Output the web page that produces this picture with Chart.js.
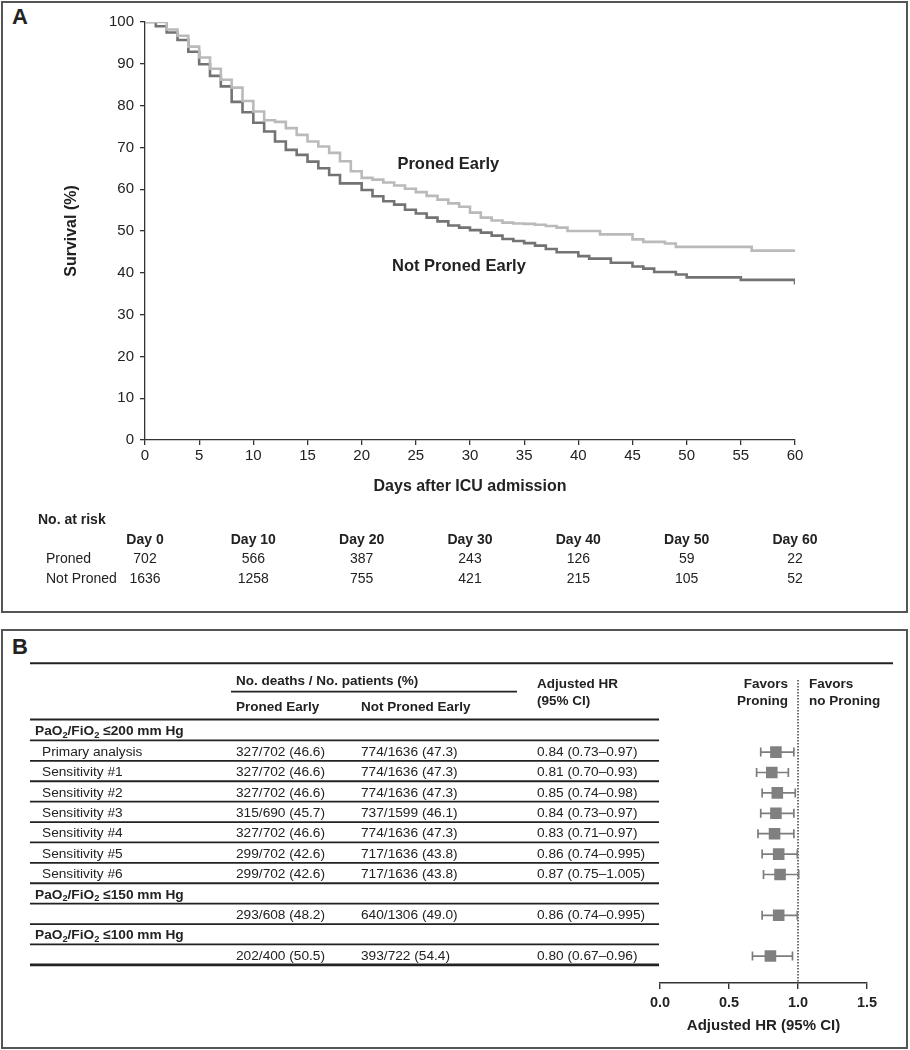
<!DOCTYPE html>
<html>
<head>
<meta charset="utf-8">
<script src="https://cdn.jsdelivr.net/npm/chart.js@4.4.1/dist/chart.umd.min.js"></script>
<style>
  body { margin: 0; background: #fff; }
  #wrap { position: relative; width: 910px; height: 1050px; background: #fff; }
  .panel { position: absolute; box-sizing: border-box; border: 2px solid #555; }
  .tag { position: absolute; font: bold 22px 'Liberation Sans', Arial, sans-serif; line-height: 22px; color: #222; }
  canvas { position: absolute; left: 0; }
</style>
</head>
<body>
<div id="wrap">
  <div class="panel" style="left:1px;top:1px;width:907px;height:612px"></div>
  <div class="panel" style="left:1px;top:629px;width:907px;height:420px"></div>
  <div class="tag" style="left:12px;top:6px">A</div>
  <div class="tag" style="left:12px;top:636px">B</div>
  <canvas id="km" width="910" height="612" style="top:0"></canvas>
  <canvas id="forest" width="910" height="420" style="top:630px"></canvas>
</div>
<script>
// ---------- DATA: survival curves ----------
const days = [0,1,2,3,4,5,6,7,8,9,10,11,12,13,14,15,16,17,18,19,20,21,22,23,24,25,26,27,28,29,30,
              31,32,33,34,35,36,37,38,39,40,41,42,43,44,45,46,47,48,49,50,51,52,53,54,55,56,57,58,59,60];
const pronedEarly = [100,100,98.2,96.7,94.1,91.5,88.8,86.2,84.3,81.1,
                     78.6,76.5,76.1,74.6,73.0,71.4,70.2,68.7,66.7,64.3,
                     62.7,62.3,61.6,60.9,60.1,59.3,58.4,57.5,56.6,55.8,
                     54.4,53.2,52.5,52.0,51.8,51.7,51.5,51.2,50.8,50.0,
                     50.0,50.0,49.2,49.2,49.2,48.0,47.4,47.4,47.0,46.2,
                     46.2,46.2,46.2,46.2,46.2,46.2,45.3,45.3,45.3,45.3,45.3];
const notPronedEarly = [100,99.0,97.5,95.7,92.9,89.9,87.1,84.6,80.9,78.4,
                        75.9,73.8,71.4,69.4,68.2,66.6,65.0,63.4,61.4,61.4,
                        59.8,58.3,57.1,56.3,55.1,54.2,53.2,52.3,51.3,50.8,
                        50.2,49.6,48.9,48.1,47.6,47.1,46.5,45.7,44.9,44.9,
                        44.0,43.4,43.4,42.4,42.4,41.5,41.0,40.2,40.2,39.6,
                        38.9,38.9,38.9,38.9,38.9,38.3,38.3,38.3,38.3,38.3,37.2];

// ---------- DATA: number at risk ----------
const riskDays = [0, 10, 20, 30, 40, 50, 60];
const riskProned = [702, 566, 387, 243, 126, 59, 22];
const riskNotProned = [1636, 1258, 755, 421, 215, 105, 52];

// ---------- DATA: forest table ----------
const rowLabels = ['PaO_2/FiO_2 \u2264200 mm Hg', 'Primary analysis', 'Sensitivity #1', 'Sensitivity #2',
                   'Sensitivity #3', 'Sensitivity #4', 'Sensitivity #5', 'Sensitivity #6',
                   'PaO_2/FiO_2 \u2264150 mm Hg', '', 'PaO_2/FiO_2 \u2264100 mm Hg', ''];
const rowIsGroup = [true, false, false, false, false, false, false, false, true, false, true, false];
const pronedCol = ['', '327/702 (46.6)', '327/702 (46.6)', '327/702 (46.6)', '315/690 (45.7)',
                   '327/702 (46.6)', '299/702 (42.6)', '299/702 (42.6)', '', '293/608 (48.2)', '', '202/400 (50.5)'];
const notPronedCol = ['', '774/1636 (47.3)', '774/1636 (47.3)', '774/1636 (47.3)', '737/1599 (46.1)',
                      '774/1636 (47.3)', '717/1636 (43.8)', '717/1636 (43.8)', '', '640/1306 (49.0)', '', '393/722 (54.4)'];
const hrRows = [1, 2, 3, 4, 5, 6, 7, 9, 11];
const hr = [0.84, 0.81, 0.85, 0.84, 0.83, 0.86, 0.87, 0.86, 0.80];
const hrLow = [0.73, 0.70, 0.74, 0.73, 0.71, 0.74, 0.75, 0.74, 0.67];
const hrHigh = [0.97, 0.93, 0.98, 0.97, 0.97, 0.995, 1.005, 0.995, 0.96];
const hrTicks = [0, 0.5, 1.0, 1.5];

const FONT = "'Liberation Sans', Arial, sans-serif";
const INK = '#222';
Chart.defaults.font.family = FONT;
Chart.defaults.color = INK;

// ---------- PANEL A ----------
const curveLabels = [
    { text: 'Proned Early', day: 23.3, surv: 65.9 },
    { text: 'Not Proned Early', day: 22.8, surv: 41.5 }
];

const kmText = {
    id: 'kmText',
    afterDraw(chart) {
        const ctx = chart.ctx;
        const xs = chart.scales.x, ys = chart.scales.y;
        ctx.save();
        ctx.fillStyle = INK;
        ctx.textBaseline = 'middle';

        ctx.font = 'bold 16.5px ' + FONT;
        ctx.textAlign = 'left';
        curveLabels.forEach(l => {
            ctx.fillText(l.text, xs.getPixelForValue(l.day), ys.getPixelForValue(l.surv));
        });

        // number at risk table
        ctx.font = 'bold 14px ' + FONT;
        ctx.fillText('No. at risk', 38, 520);
        ctx.textAlign = 'center';
        riskDays.forEach(d => ctx.fillText('Day ' + d, xs.getPixelForValue(d), 540));

        ctx.font = '14px ' + FONT;
        ctx.textAlign = 'left';
        ctx.fillText('Proned', 46, 559);
        ctx.fillText('Not Proned', 46, 579);
        ctx.textAlign = 'center';
        riskDays.forEach((d, i) => {
            const x = xs.getPixelForValue(d);
            ctx.fillText(String(riskProned[i]), x, 559);
            ctx.fillText(String(riskNotProned[i]), x, 579);
        });
        ctx.restore();
    }
};

new Chart(document.getElementById('km'), {
    type: 'line',
    data: {
        datasets: [{
            label: 'Proned Early',
            data: days.map((d, i) => ({ x: d, y: pronedEarly[i] })),
            borderColor: '#bababa',
            borderWidth: 2.6,
            stepped: true,
            pointRadius: 0
        }, {
            label: 'Not Proned Early',
            data: days.map((d, i) => ({ x: d, y: notPronedEarly[i] })),
            borderColor: '#737373',
            borderWidth: 2.6,
            stepped: true,
            pointRadius: 0
        }]
    },
    options: {
        responsive: false,
        animation: false,
        layout: { padding: { left: 60, right: 115, top: 22, bottom: 116 } },
        plugins: { legend: { display: false }, tooltip: { enabled: false } },
        scales: {
            x: {
                type: 'linear', min: 0, max: 60,
                ticks: { stepSize: 5, font: { size: 15 }, padding: 2, color: INK },
                grid: { drawOnChartArea: false, tickLength: 5, color: '#333', lineWidth: 1.3 },
                border: { color: '#333', width: 1.3 },
                title: { display: true, text: 'Days after ICU admission', color: INK,
                         font: { size: 16, weight: 'bold' }, padding: { top: 0, bottom: 0 } },
                afterFit(s) { s.height = 56; }
            },
            y: {
                min: 0, max: 100,
                ticks: { stepSize: 10, font: { size: 15 }, padding: 6, color: INK },
                grid: { drawOnChartArea: false, tickLength: 5, color: '#333', lineWidth: 1.3 },
                border: { color: '#333', width: 1.3 },
                title: { display: true, text: 'Survival (%)', color: INK,
                         font: { size: 16, weight: 'bold' }, padding: { top: 2, bottom: 0 } },
                afterFit(s) { s.width = 85; }
            }
        }
    },
    plugins: [kmText]
});

// ---------- PANEL B ----------
// text with "_x" meaning subscript x
function drawRich(ctx, str, x, y, size, weight) {
    let i = 0;
    while (i < str.length) {
        let sub = false, piece;
        if (str[i] === '_') { sub = true; piece = str[i + 1]; i += 2; }
        else {
            let j = str.indexOf('_', i);
            if (j < 0) j = str.length;
            piece = str.slice(i, j); i = j;
        }
        const fs = sub ? size * 0.68 : size;
        ctx.font = weight + ' ' + fs + 'px ' + FONT;
        ctx.fillText(piece, x, sub ? y + size * 0.28 : y);
        x += ctx.measureText(piece).width;
    }
}

function hline(ctx, x1, x2, y, w) {
    ctx.lineWidth = w;
    ctx.beginPath();
    ctx.moveTo(x1, y);
    ctx.lineTo(x2, y);
    ctx.stroke();
}

const forestDecor = {
    id: 'forestDecor',
    beforeDatasetsDraw(chart) {
        const ctx = chart.ctx;
        const xs = chart.scales.x, ys = chart.scales.y;
        ctx.save();
        // reference line at HR = 1
        ctx.strokeStyle = '#333';
        ctx.lineWidth = 1.4;
        ctx.setLineDash([1.5, 1.5]);
        const x1 = xs.getPixelForValue(1);
        ctx.beginPath();
        ctx.moveTo(x1, 50);
        ctx.lineTo(x1, chart.chartArea.bottom);
        ctx.stroke();
        ctx.setLineDash([]);

        // confidence intervals
        ctx.strokeStyle = '#7d7d7d';
        ctx.lineWidth = 1.7;
        hrRows.forEach((r, i) => {
            const y = ys.getPixelForValue(r);
            const a = xs.getPixelForValue(hrLow[i]), b = xs.getPixelForValue(hrHigh[i]);
            ctx.beginPath();
            ctx.moveTo(a, y); ctx.lineTo(b, y);
            ctx.moveTo(a, y - 4.5); ctx.lineTo(a, y + 4.5);
            ctx.moveTo(b, y - 4.5); ctx.lineTo(b, y + 4.5);
            ctx.stroke();
        });
        ctx.restore();
    },
    afterDraw(chart) {
        const ctx = chart.ctx;
        const ys = chart.scales.y;
        ctx.save();
        ctx.fillStyle = INK;
        ctx.strokeStyle = '#222';
        ctx.textBaseline = 'middle';
        ctx.textAlign = 'left';

        // header
        ctx.font = 'bold 13.5px ' + FONT;
        ctx.fillText('No. deaths / No. patients (%)', 236, 51.7);
        ctx.fillText('Proned Early', 236, 77.3);
        ctx.fillText('Not Proned Early', 361, 77.3);
        ctx.fillText('Adjusted HR', 537, 54.3);
        ctx.fillText('(95% CI)', 537, 71);
        ctx.fillText('Favors', 809, 54.3);
        ctx.fillText('no Proning', 809, 71);
        ctx.textAlign = 'right';
        ctx.fillText('Favors', 788, 54.3);
        ctx.fillText('Proning', 788, 71);
        ctx.textAlign = 'left';

        hline(ctx, 30, 893, 33.3, 2);
        hline(ctx, 231, 517, 61.7, 1.8);
        hline(ctx, 30, 659, ys.getPixelForValue(-0.6), 2);

        // rows
        rowLabels.forEach((lab, i) => {
            const y = ys.getPixelForValue(i);
            if (rowIsGroup[i]) drawRich(ctx, lab, 35, y, 13.7, 'bold');
            else drawRich(ctx, lab, 42, y, 13.7, 'normal');
            ctx.font = '13.7px ' + FONT;
            ctx.fillText(pronedCol[i], 236, y);
            ctx.fillText(notPronedCol[i], 361, y);
            hline(ctx, 30, 659, ys.getPixelForValue(i + 0.43), i === rowLabels.length - 1 ? 2.6 : 1.8);
        });
        ctx.font = '13.7px ' + FONT;
        hrRows.forEach((r, i) => {
            const txt = hr[i].toFixed(2) + ' (' + hrLow[i].toFixed(2) + '\u2013' + String(hrHigh[i]) + ')';
            ctx.fillText(txt, 537, ys.getPixelForValue(r));
        });
        ctx.restore();
    }
};

new Chart(document.getElementById('forest'), {
    type: 'scatter',
    data: {
        datasets: [{
            data: hr.map((v, i) => ({ x: v, y: hrRows[i] })),
            pointStyle: 'rect',
            pointRadius: 8.2,
            backgroundColor: '#808080',
            borderWidth: 0
        }]
    },
    options: {
        responsive: false,
        animation: false,
        layout: { padding: { left: 660, right: 43, top: 81.3, bottom: 12 } },
        plugins: { legend: { display: false }, tooltip: { enabled: false } },
        scales: {
            x: {
                type: 'linear', min: hrTicks[0], max: hrTicks[hrTicks.length - 1],
                afterBuildTicks(s) { s.ticks = hrTicks.map(v => ({ value: v })); },
                ticks: { callback: v => v.toFixed(1), font: { size: 14.5, weight: 'bold' }, padding: 5, color: INK },
                grid: { drawOnChartArea: false, tickLength: 6, color: '#333', lineWidth: 1.4 },
                border: { color: '#333', width: 1.5 },
                title: { display: true, text: 'Adjusted HR (95% CI)', color: INK,
                         font: { size: 15, weight: 'bold' }, padding: { top: 0, bottom: 3 } },
                afterFit(s) { s.height = 55; }
            },
            y: { type: 'linear', display: false, reverse: true, min: -1, max: 12.32 }
        }
    },
    plugins: [forestDecor]
});
</script>
</body>
</html>
